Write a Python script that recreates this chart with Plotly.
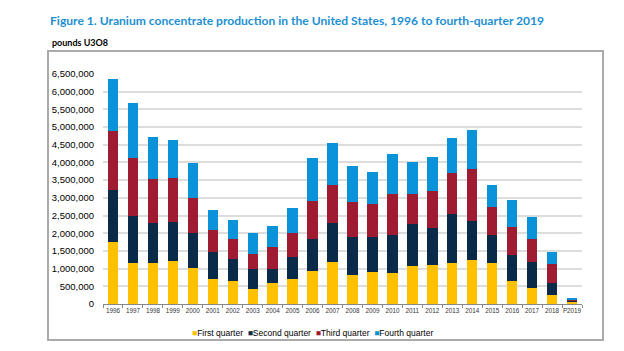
import plotly.graph_objects as go

years = ["1996", "1997", "1998", "1999", "2000", "2001", "2002", "2003", "2004", "2005",
         "2006", "2007", "2008", "2009", "2010", "2011", "2012", "2013", "2014", "2015",
         "2016", "2017", "2018", "P2019"]

first_quarter = [1740000, 1160000, 1160000, 1210000, 1020000, 710000, 640000, 410000, 600000, 710000,
                 935000, 1180000, 810000, 900000, 880000, 1080000, 1090000, 1150000, 1250000, 1150000,
                 640000, 450000, 245000, 60000]
second_quarter = [1470000, 1330000, 1140000, 1110000, 990000, 760000, 630000, 580000, 390000, 630000,
                  905000, 1120000, 1080000, 980000, 1070000, 1190000, 1070000, 1400000, 1100000, 810000,
                  750000, 750000, 355000, 50000]
third_quarter = [1685000, 1630000, 1230000, 1230000, 990000, 620000, 580000, 430000, 610000, 660000,
                 1080000, 1060000, 990000, 950000, 1150000, 850000, 1030000, 1160000, 1470000, 770000,
                 800000, 630000, 525000, 30000]
fourth_quarter = [1455000, 1550000, 1200000, 1080000, 980000, 565000, 510000, 590000, 600000, 710000,
                  1200000, 1195000, 1030000, 890000, 1140000, 900000, 970000, 970000, 1090000, 630000,
                  740000, 640000, 340000, 30000]

series = [
    ("First quarter", first_quarter, "#FFC000"),
    ("Second quarter", second_quarter, "#0A2A4A"),
    ("Third quarter", third_quarter, "#9E1B32"),
    ("Fourth quarter", fourth_quarter, "#0A93D8"),
]

y_ticks = list(range(0, 6500001, 500000))
y_tick_text = [f"{v:,}" for v in y_ticks]

fig = go.Figure()
for name, vals, color in series:
    fig.add_trace(go.Bar(x=years, y=vals, name=name, marker=dict(color=color, line=dict(width=0)),
                         width=0.52, showlegend=False))

fig.update_layout(
    barmode="stack",
    width=624, height=351,
    margin=dict(l=103, r=42, t=74, b=47),
    paper_bgcolor="white",
    plot_bgcolor="white",
    font=dict(family="Liberation Sans, Arial, sans-serif", color="#000000"),
    title=dict(
        text="Figure 1. Uranium concentrate production in the United States, 1996 to fourth-quarter 2019",
        x=50 / 624, xanchor="left", xref="container",
        y=1 - 21 / 351, yanchor="middle", yref="container",
        font=dict(family="Lato, sans-serif", size=12.1, color="#1C8FD3", weight="bold"),
    ),
    showlegend=False,
)

fig.update_xaxes(
    type="category",
    showgrid=False,
    showline=True, linecolor="#888888", linewidth=1,
    ticks="outside", tickson="boundaries", ticklen=3, tickcolor="#888888",
    tickangle=0,
    tickfont=dict(size=6.3, color="#333333"),
)
fig.update_yaxes(
    range=[0, 6500000],
    tickvals=y_ticks, ticktext=y_tick_text,
    showgrid=True, gridcolor="#DDDDDD", gridwidth=1.5,
    zeroline=False, showline=False,
    ticks="", ticklabelstandoff=8,
    tickfont=dict(size=9.5, color="#000000"),
)

legend_text = "  ".join(
    f"<span style='color:{color}'>■</span>{name}" for name, _, color in series
)
fig.add_annotation(
    text=legend_text, xref="paper", yref="paper",
    x=(312 - 103) / 479, y=(304 - 333) / 230, xanchor="center", yanchor="middle",
    showarrow=False, font=dict(size=8.5, color="#000000"),
)

fig.add_annotation(
    text="<b>pounds U3O8</b>", xref="paper", yref="paper",
    x=(50 - 103) / 479, y=(304 - 43) / 230, xanchor="left", yanchor="middle",
    showarrow=False, font=dict(family="Lato, sans-serif", size=9, color="#000000"),
)

fig.add_shape(
    type="rect", xref="paper", yref="paper",
    x0=(48 - 103) / 479, x1=(603 - 103) / 479,
    y0=(304 - 340) / 230, y1=(304 - 51) / 230,
    line=dict(color="#AAAAAA", width=2), fillcolor="rgba(0,0,0,0)", layer="below",
)

fig.write_html("out.html")
